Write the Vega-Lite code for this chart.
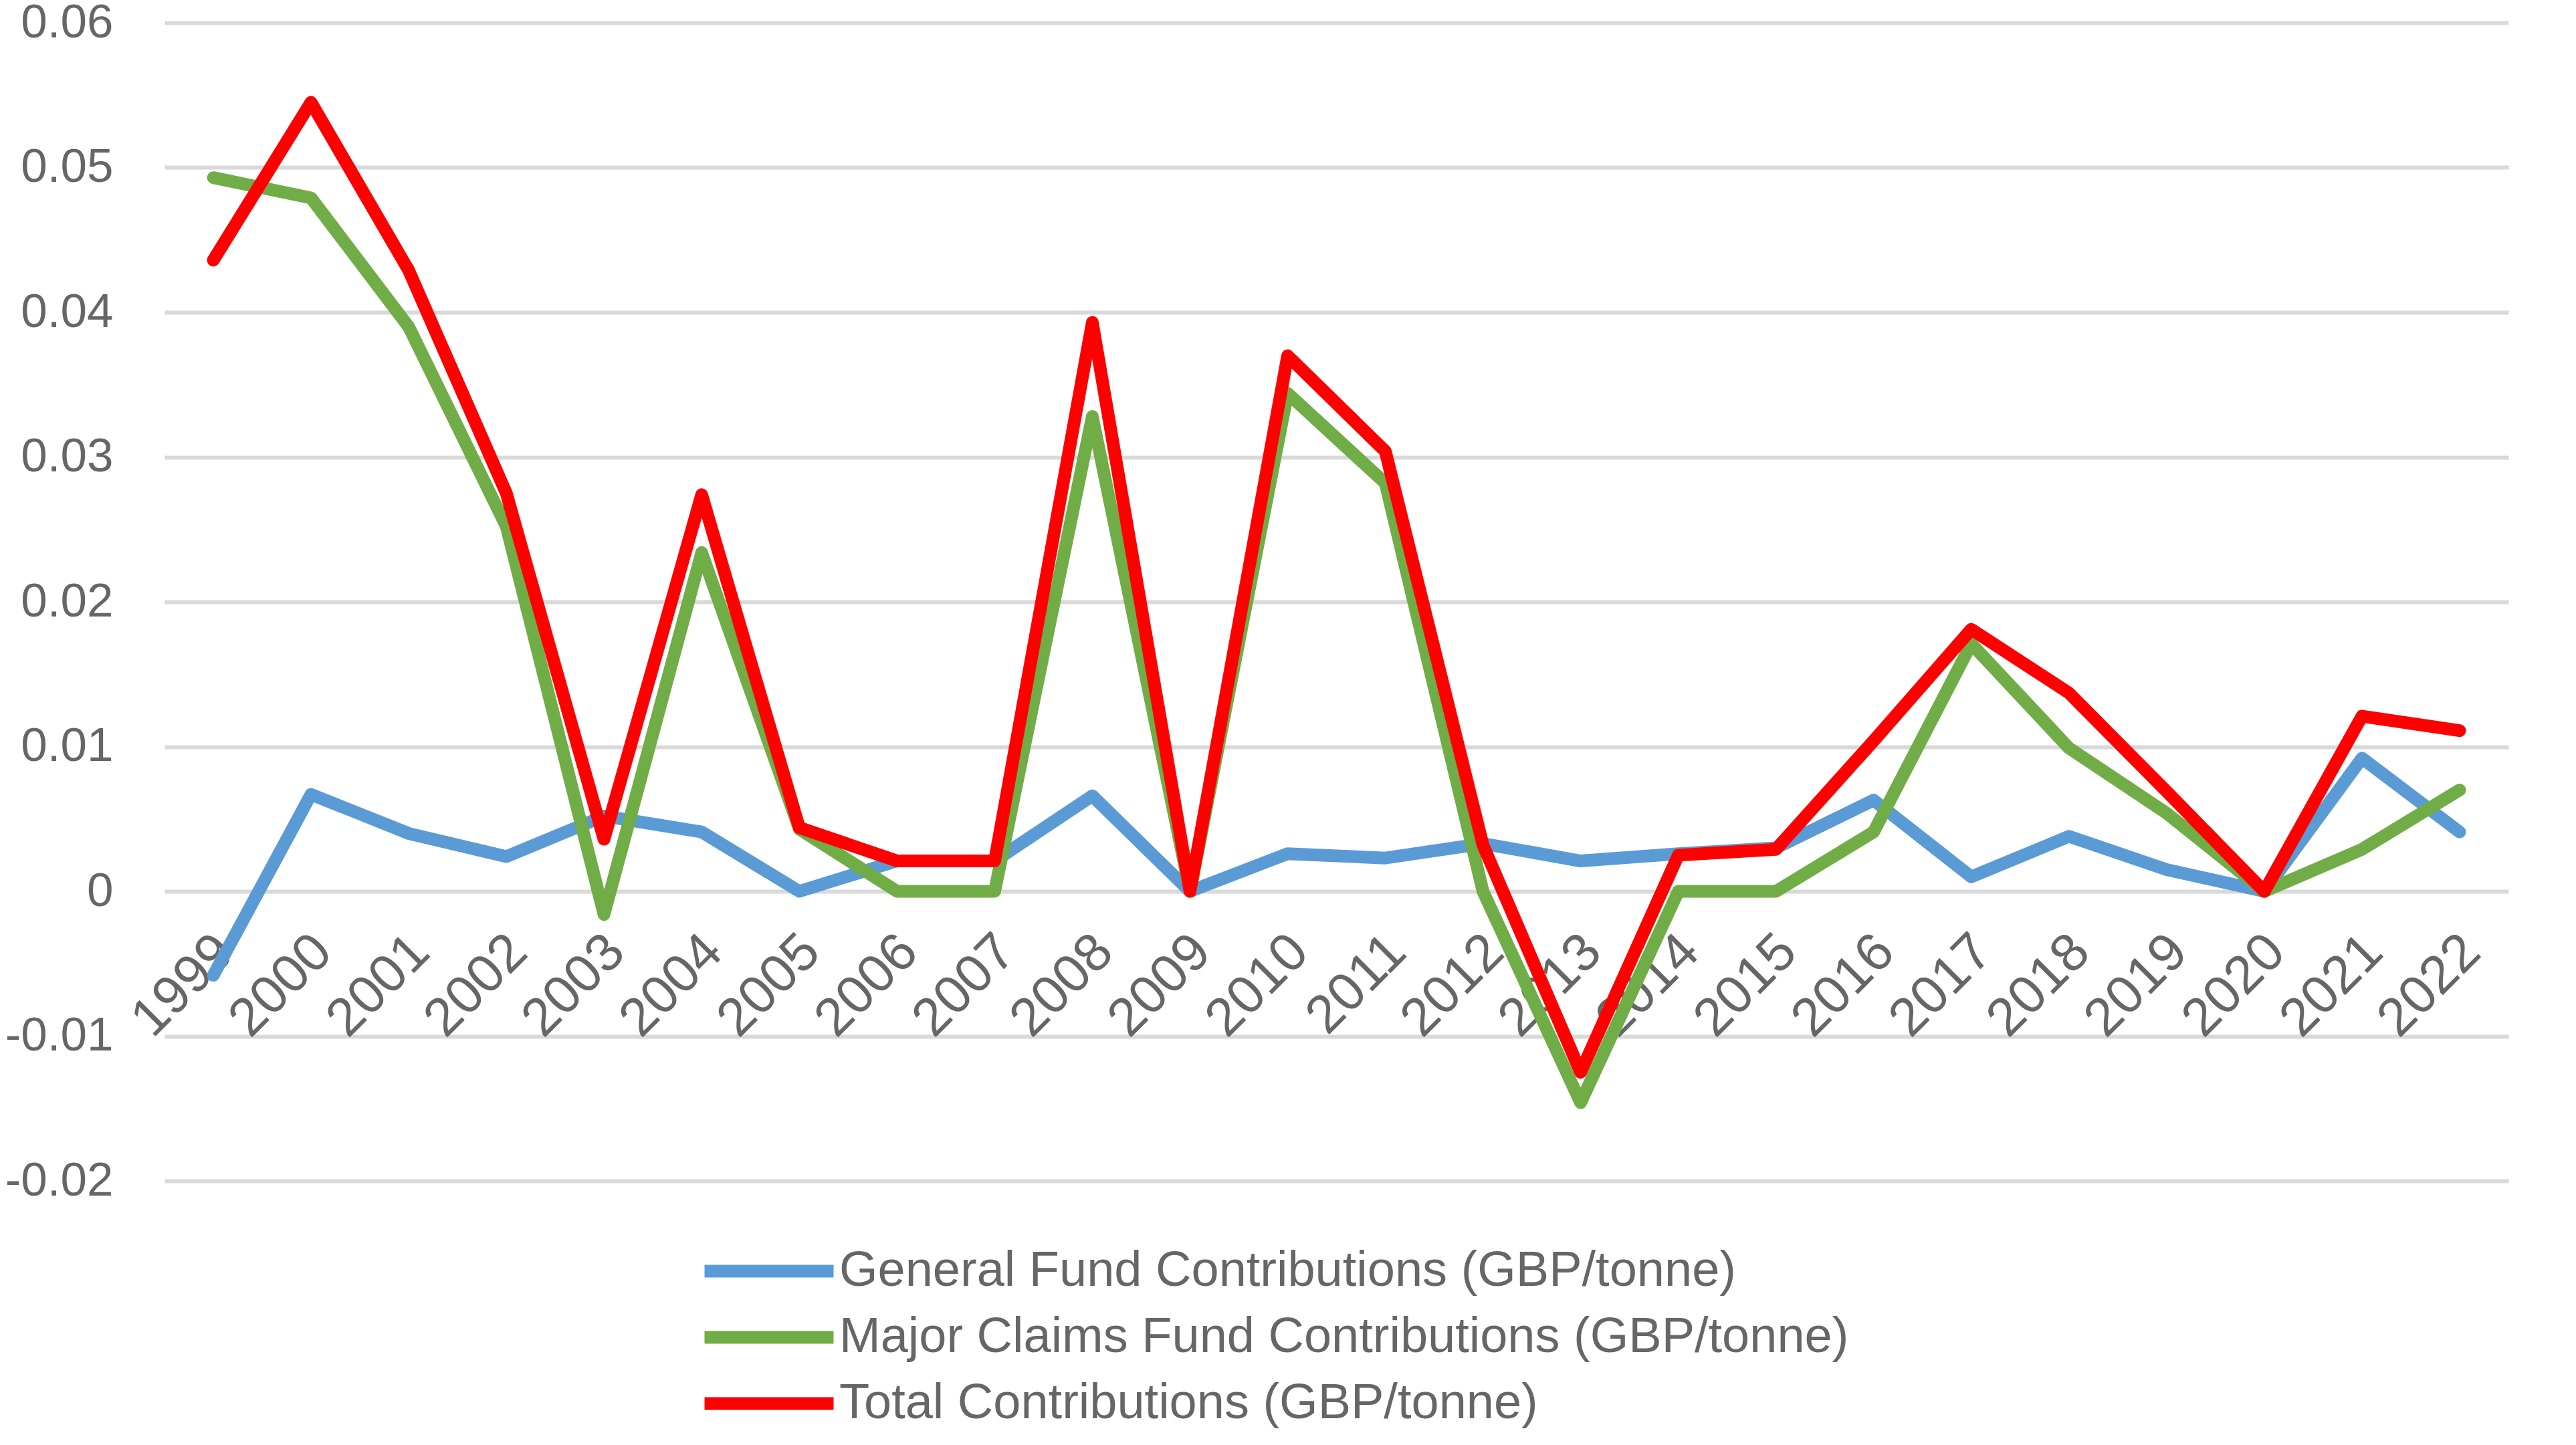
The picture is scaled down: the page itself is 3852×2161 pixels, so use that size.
{
  "$schema": "https://vega.github.io/schema/vega-lite/v6.json",
  "width": 3505,
  "height": 1732,
  "autosize": "none",
  "padding": {"left": 246, "top": 34, "right": 101, "bottom": 395},
  "background": "white",
  "config": {
    "view": {"stroke": null},
    "font": "Liberation Sans"
  },
  "data": {
    "values": [
      {"year": "1999", "series": "General Fund Contributions (GBP/tonne)", "value": -0.0058},
      {"year": "2000", "series": "General Fund Contributions (GBP/tonne)", "value": 0.0067},
      {"year": "2001", "series": "General Fund Contributions (GBP/tonne)", "value": 0.0040},
      {"year": "2002", "series": "General Fund Contributions (GBP/tonne)", "value": 0.0024},
      {"year": "2003", "series": "General Fund Contributions (GBP/tonne)", "value": 0.0052},
      {"year": "2004", "series": "General Fund Contributions (GBP/tonne)", "value": 0.0041},
      {"year": "2005", "series": "General Fund Contributions (GBP/tonne)", "value": 0.0000},
      {"year": "2006", "series": "General Fund Contributions (GBP/tonne)", "value": 0.0021},
      {"year": "2007", "series": "General Fund Contributions (GBP/tonne)", "value": 0.0021},
      {"year": "2008", "series": "General Fund Contributions (GBP/tonne)", "value": 0.0066},
      {"year": "2009", "series": "General Fund Contributions (GBP/tonne)", "value": 0.0000},
      {"year": "2010", "series": "General Fund Contributions (GBP/tonne)", "value": 0.0026},
      {"year": "2011", "series": "General Fund Contributions (GBP/tonne)", "value": 0.0023},
      {"year": "2012", "series": "General Fund Contributions (GBP/tonne)", "value": 0.0033},
      {"year": "2013", "series": "General Fund Contributions (GBP/tonne)", "value": 0.0021},
      {"year": "2014", "series": "General Fund Contributions (GBP/tonne)", "value": 0.0026},
      {"year": "2015", "series": "General Fund Contributions (GBP/tonne)", "value": 0.0030},
      {"year": "2016", "series": "General Fund Contributions (GBP/tonne)", "value": 0.0063},
      {"year": "2017", "series": "General Fund Contributions (GBP/tonne)", "value": 0.0010},
      {"year": "2018", "series": "General Fund Contributions (GBP/tonne)", "value": 0.0038},
      {"year": "2019", "series": "General Fund Contributions (GBP/tonne)", "value": 0.0015},
      {"year": "2020", "series": "General Fund Contributions (GBP/tonne)", "value": 0.0000},
      {"year": "2021", "series": "General Fund Contributions (GBP/tonne)", "value": 0.0092},
      {"year": "2022", "series": "General Fund Contributions (GBP/tonne)", "value": 0.0041},
      {"year": "1999", "series": "Major Claims Fund Contributions (GBP/tonne)", "value": 0.0493},
      {"year": "2000", "series": "Major Claims Fund Contributions (GBP/tonne)", "value": 0.0479},
      {"year": "2001", "series": "Major Claims Fund Contributions (GBP/tonne)", "value": 0.0390},
      {"year": "2002", "series": "Major Claims Fund Contributions (GBP/tonne)", "value": 0.0252},
      {"year": "2003", "series": "Major Claims Fund Contributions (GBP/tonne)", "value": -0.0016},
      {"year": "2004", "series": "Major Claims Fund Contributions (GBP/tonne)", "value": 0.0234},
      {"year": "2005", "series": "Major Claims Fund Contributions (GBP/tonne)", "value": 0.0043},
      {"year": "2006", "series": "Major Claims Fund Contributions (GBP/tonne)", "value": 0.0000},
      {"year": "2007", "series": "Major Claims Fund Contributions (GBP/tonne)", "value": 0.0000},
      {"year": "2008", "series": "Major Claims Fund Contributions (GBP/tonne)", "value": 0.0328},
      {"year": "2009", "series": "Major Claims Fund Contributions (GBP/tonne)", "value": 0.0000},
      {"year": "2010", "series": "Major Claims Fund Contributions (GBP/tonne)", "value": 0.0344},
      {"year": "2011", "series": "Major Claims Fund Contributions (GBP/tonne)", "value": 0.0282},
      {"year": "2012", "series": "Major Claims Fund Contributions (GBP/tonne)", "value": 0.0000},
      {"year": "2013", "series": "Major Claims Fund Contributions (GBP/tonne)", "value": -0.0146},
      {"year": "2014", "series": "Major Claims Fund Contributions (GBP/tonne)", "value": 0.0000},
      {"year": "2015", "series": "Major Claims Fund Contributions (GBP/tonne)", "value": 0.0000},
      {"year": "2016", "series": "Major Claims Fund Contributions (GBP/tonne)", "value": 0.0041},
      {"year": "2017", "series": "Major Claims Fund Contributions (GBP/tonne)", "value": 0.0171},
      {"year": "2018", "series": "Major Claims Fund Contributions (GBP/tonne)", "value": 0.0099},
      {"year": "2019", "series": "Major Claims Fund Contributions (GBP/tonne)", "value": 0.0054},
      {"year": "2020", "series": "Major Claims Fund Contributions (GBP/tonne)", "value": 0.0000},
      {"year": "2021", "series": "Major Claims Fund Contributions (GBP/tonne)", "value": 0.0029},
      {"year": "2022", "series": "Major Claims Fund Contributions (GBP/tonne)", "value": 0.0070},
      {"year": "1999", "series": "Total Contributions (GBP/tonne)", "value": 0.0436},
      {"year": "2000", "series": "Total Contributions (GBP/tonne)", "value": 0.0545},
      {"year": "2001", "series": "Total Contributions (GBP/tonne)", "value": 0.0429},
      {"year": "2002", "series": "Total Contributions (GBP/tonne)", "value": 0.0275},
      {"year": "2003", "series": "Total Contributions (GBP/tonne)", "value": 0.0036},
      {"year": "2004", "series": "Total Contributions (GBP/tonne)", "value": 0.0274},
      {"year": "2005", "series": "Total Contributions (GBP/tonne)", "value": 0.0044},
      {"year": "2006", "series": "Total Contributions (GBP/tonne)", "value": 0.0021},
      {"year": "2007", "series": "Total Contributions (GBP/tonne)", "value": 0.0021},
      {"year": "2008", "series": "Total Contributions (GBP/tonne)", "value": 0.0393},
      {"year": "2009", "series": "Total Contributions (GBP/tonne)", "value": 0.0000},
      {"year": "2010", "series": "Total Contributions (GBP/tonne)", "value": 0.0370},
      {"year": "2011", "series": "Total Contributions (GBP/tonne)", "value": 0.0304},
      {"year": "2012", "series": "Total Contributions (GBP/tonne)", "value": 0.0032},
      {"year": "2013", "series": "Total Contributions (GBP/tonne)", "value": -0.0125},
      {"year": "2014", "series": "Total Contributions (GBP/tonne)", "value": 0.0025},
      {"year": "2015", "series": "Total Contributions (GBP/tonne)", "value": 0.0029},
      {"year": "2016", "series": "Total Contributions (GBP/tonne)", "value": 0.0104},
      {"year": "2017", "series": "Total Contributions (GBP/tonne)", "value": 0.0181},
      {"year": "2018", "series": "Total Contributions (GBP/tonne)", "value": 0.0137},
      {"year": "2019", "series": "Total Contributions (GBP/tonne)", "value": 0.0069},
      {"year": "2020", "series": "Total Contributions (GBP/tonne)", "value": 0.0000},
      {"year": "2021", "series": "Total Contributions (GBP/tonne)", "value": 0.0121},
      {"year": "2022", "series": "Total Contributions (GBP/tonne)", "value": 0.0111}
    ]
  },
  "mark": {"type": "line", "strokeJoin": "round", "strokeCap": "round"},
  "encoding": {
    "x": {
      "field": "year",
      "type": "ordinal",
      "scale": {"type": "point", "padding": 0.5},
      "axis": {
        "title": null,
        "offset": -433,
        "domain": false,
        "ticks": false,
        "grid": false,
        "labelAngle": -45,
        "labelAlign": "right",
        "labelBaseline": "top",
        "labelPadding": 50,
        "labelOffset": -10,
        "labelFontSize": 80,
        "labelColor": "#666666",
        "labelFont": "Liberation Sans"
      }
    },
    "y": {
      "field": "value",
      "type": "quantitative",
      "scale": {"domain": [-0.02, 0.06], "nice": false, "zero": false},
      "axis": {
        "title": null,
        "values": [-0.02, -0.01, 0, 0.01, 0.02, 0.03, 0.04, 0.05, 0.06],
        "labelExpr": "datum.value + ''",
        "domain": false,
        "ticks": false,
        "grid": true,
        "gridColor": "#d9d9d9",
        "gridWidth": 6,
        "labelPadding": 77,
        "labelFontSize": 71,
        "labelColor": "#666666",
        "labelFont": "Liberation Sans"
      }
    },
    "strokeWidth": {
      "field": "series",
      "type": "ordinal",
      "scale": {
        "domain": ["General Fund Contributions (GBP/tonne)", "Major Claims Fund Contributions (GBP/tonne)", "Total Contributions (GBP/tonne)"],
        "range": [19, 19, 22]
      },
      "legend": null
    },
    "color": {
      "field": "series",
      "type": "nominal",
      "scale": {
        "domain": ["General Fund Contributions (GBP/tonne)", "Major Claims Fund Contributions (GBP/tonne)", "Total Contributions (GBP/tonne)"],
        "range": ["#5b9bd5", "#70ad47", "#ff0000"]
      },
      "legend": {
        "title": null,
        "orient": "none",
        "legendX": 867,
        "legendY": 1830,
        "direction": "vertical",
        "padding": 0,
        "symbolType": "M-5,0H5",
        "symbolSize": 1490,
        "symbolStrokeWidth": 20,
        "labelFontSize": 74,
        "labelColor": "#666666",
        "labelFont": "Liberation Sans",
        "labelOffset": 68,
        "labelLimit": 3000,
        "rowPadding": 23
      }
    }
  }
}
